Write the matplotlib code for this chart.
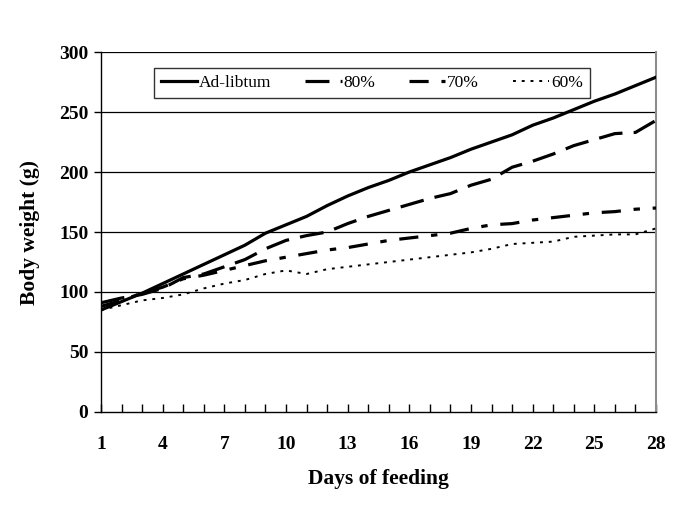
import numpy as np
import matplotlib
matplotlib.use('Agg')
import matplotlib.pyplot as plt
from matplotlib.ticker import MultipleLocator

plt.rcParams['font.family'] = ['Liberation Serif', 'DejaVu Serif']

# Days of feeding
days = np.arange(1, 29)

# Body weight (g) per group
ad_libitum = [85, 92, 99, 107, 115, 123, 131, 139, 149, 156, 163, 172, 180, 187,
              193, 200, 206, 212, 219, 225, 231, 239, 245, 252, 259, 265, 272, 279]
restr_80 = [91, 95, 98, 103, 112, 115, 121, 127, 136, 143, 147, 150, 157, 163,
            168, 173, 178, 182, 189, 194, 204, 209, 215, 222, 227, 232, 233, 243]
restr_70 = [88, 93, 99, 104, 111, 114, 118, 122, 126, 129, 132, 135, 137, 140,
            143, 145, 147, 149, 153, 156, 157, 160, 162, 164, 166, 167, 169, 170]
restr_60 = [85, 89, 93, 95, 98, 103, 107, 110, 115, 118, 115, 119, 121, 123,
            125, 127, 129, 131, 133, 136, 140, 141, 142, 146, 147, 148, 148, 153]

labels = ['Ad-libtum', '80%', '70%', '60%']
y_ticks = [0, 50, 100, 150, 200, 250, 300]
x_ticks = [1, 4, 7, 10, 13, 16, 19, 22, 25, 28]

fig = plt.figure(figsize=(6.85, 5.13), dpi=100)
ax = fig.add_axes([0.1474, 0.1969, 0.8103, 0.7017])

# grid lines
for v in y_ticks[1:]:
    ax.axhline(v, color='black', lw=0.9, zorder=1)

ax.plot(days, ad_libitum, color='black', lw=2.3, label=labels[0], zorder=3)
ax.plot(days, restr_80, color='black', lw=2.3, dashes=(7.5, 3.5), label=labels[1], zorder=3)
ax.plot(days, restr_70, color='black', lw=2.3, dashes=(6, 4, 2, 4), label=labels[2], zorder=3)
ax.plot(days, restr_60, color='black', lw=1.4, dashes=(1.5, 3), label=labels[3], zorder=3)

ax.set_xlim(1, 28)
ax.set_ylim(0, 300)
ax.set_xticks(x_ticks)
ax.xaxis.set_minor_locator(MultipleLocator(1))
ax.set_yticks(y_ticks)

ax.spines['top'].set_visible(False)
ax.spines['right'].set_color('#8c8c8c')
ax.spines['right'].set_linewidth(1.5)
ax.spines['left'].set_linewidth(1.0)
ax.spines['bottom'].set_linewidth(1.0)

ax.tick_params(axis='x', which='both', direction='in', length=6, width=1, pad=17)
ax.tick_params(axis='y', direction='out', length=5, width=1, pad=4)
for t in ax.get_xticklabels() + ax.get_yticklabels():
    t.set_fontweight('bold')
    t.set_fontsize(14)

ax.set_xlabel('Days of feeding', fontsize=15.5, fontweight='bold', labelpad=12)
ax.set_ylabel('Body weight (g)', fontsize=15.5, fontweight='bold', labelpad=14)

leg = ax.legend(loc='upper center', bbox_to_anchor=(0.488, 0.98), ncol=4,
                fontsize=12.5, frameon=True, fancybox=False, edgecolor='black',
                handlelength=2.1, handletextpad=0.1, columnspacing=1.95,
                borderpad=0.4)
leg.get_frame().set_linewidth(1.0)

fig.savefig('out.png', dpi=100)
